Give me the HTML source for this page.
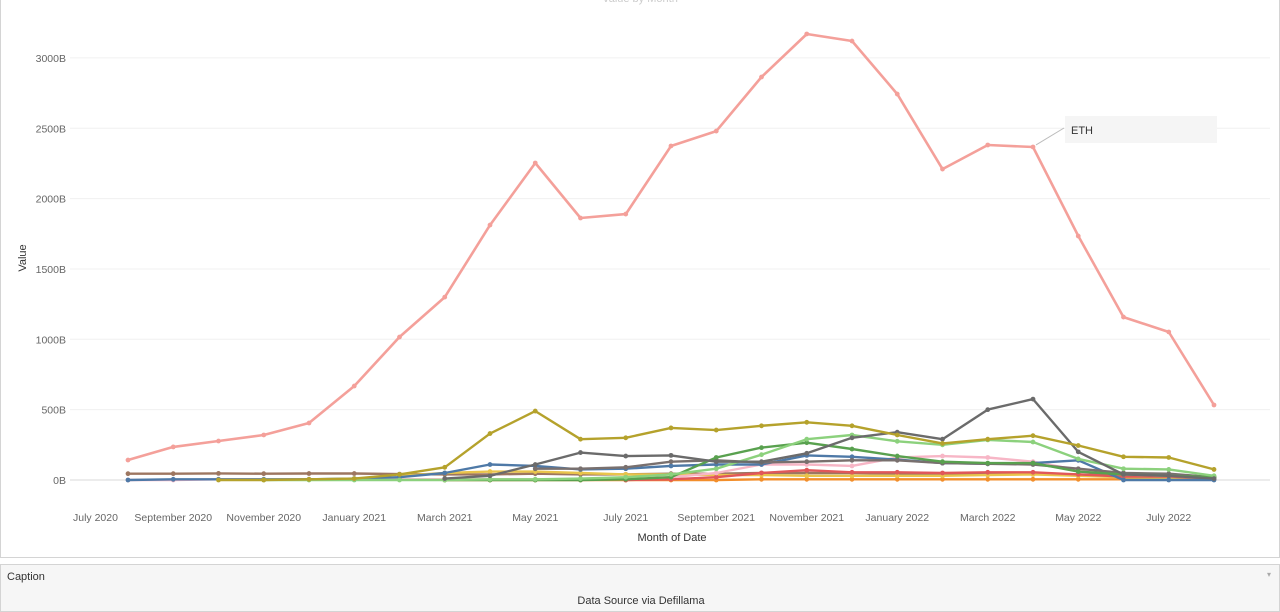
<!DOCTYPE html>
<html><head><meta charset="utf-8">
<style>
body{margin:0;width:1280px;height:609px;overflow:hidden;background:#fff;font-family:"Liberation Sans",sans-serif;}
#frame{position:absolute;left:0;top:-2px;width:1278px;height:558px;border:1px solid #d4d4d4;}
#cap{position:absolute;left:0;top:564px;width:1278px;height:46px;border:1px solid #d4d4d4;background:#f6f6f6;}
</style></head><body>
<div id="frame"></div>
<div id="cap">
 <div style="position:absolute;left:6px;top:6px;font-size:11px;color:#333">Caption</div>
 <div style="position:absolute;right:8px;top:5px;font-size:8px;color:#aaa">▾</div>
 <div style="position:absolute;left:0;width:1280px;top:30px;text-align:center;font-size:11px;color:#333">Data Source via Defillama</div>
</div>
<svg id="chart" width="1280" height="560" style="position:absolute;left:0;top:0"></svg>
<script>
const months=["Aug 2020","Sep 2020","Oct 2020","Nov 2020","Dec 2020","Jan 2021","Feb 2021","Mar 2021","Apr 2021","May 2021","Jun 2021","Jul 2021","Aug 2021","Sep 2021","Oct 2021","Nov 2021","Dec 2021","Jan 2022","Feb 2022","Mar 2022","Apr 2022","May 2022","Jun 2022","Jul 2022","Aug 2022"];
const yTicks=[0,500,1000,1500,2000,2500,3000];
const xTickLabels=["July 2020","September 2020","November 2020","January 2021","March 2021","May 2021","July 2021","September 2021","November 2021","January 2022","March 2022","May 2022","July 2022"];
const xTickIndex=[-1,1,3,5,7,9,11,13,15,17,19,21,23];
const ethVals=[142,235,277,320,405,668,1016,1300,1812,2253,1862,1890,2374,2480,2864,3170,3120,2743,2210,2381,2367,1734,1158,1052,533];
const olive=[null,null,0,0,5,10,40,90,330,490,290,300,370,355,385,410,385,320,260,290,315,245,165,160,75];
const brown=[45,45,47,45,46,46,42,40,40,45,40,40,45,45,50,50,50,45,45,45,45,40,35,30,20];
const darkGray=[null,null,null,null,null,null,null,10,30,110,195,170,175,130,130,190,300,340,290,500,575,200,40,30,10];
const blue=[0,5,5,5,5,10,20,50,110,100,75,80,100,110,110,175,165,145,120,115,120,140,0,0,0];
const darkGreen=[null,null,null,null,null,null,null,0,0,0,0,5,20,160,230,265,220,170,130,120,120,60,40,30,20];
const lightGreen=[null,null,null,0,0,0,0,0,5,5,10,20,40,80,180,290,320,275,250,285,270,150,80,75,30];
const midGray=[null,null,null,null,null,null,null,null,null,80,80,90,130,140,125,130,140,140,120,115,110,80,50,45,20];
const pink=[0,0,5,5,5,5,5,5,5,5,5,10,20,50,110,110,100,160,170,160,130,70,40,30,15];
const red=[null,null,null,null,null,null,null,null,null,null,null,0,5,20,50,70,55,55,50,55,55,40,25,25,10];
const orange=[null,null,null,null,null,null,null,0,0,0,0,0,0,0,5,5,5,5,5,5,5,5,5,5,5];
const yellow=[null,null,null,null,null,null,30,50,60,60,50,40,40,35,35,30,30,30,30,35,40,30,20,15,10];
const series=[
 {n:"brown",v:brown,c:"#9d7660"},{n:"orange",v:orange,c:"#f28e2b"},{n:"yellow",v:yellow,c:"#e9c44b"},
 {n:"red",v:red,c:"#e15759"},{n:"pink",v:pink,c:"#f7b6c6"},{n:"blue",v:blue,c:"#4e79a7"},
 {n:"mid-gray",v:midGray,c:"#79706e"},{n:"dark-green",v:darkGreen,c:"#59a14f"},{n:"light-green",v:lightGreen,c:"#8cd17d"},
 {n:"dark-gray",v:darkGray,c:"#6b6b6b"},{n:"olive",v:olive,c:"#b5a22c"},{n:"eth",v:ethVals,c:"#f4a09a"}];
const NS="http://www.w3.org/2000/svg";
const svg=document.getElementById("chart");
const x=i=>128+i*45.25;
const y=v=>480-v*0.1407;
function el(t,a,txt){const e=document.createElementNS(NS,t);for(const k in a)e.setAttribute(k,a[k]);if(txt!=null)e.textContent=txt;svg.appendChild(e);return e;}
el("text",{x:640,y:2,"text-anchor":"middle","font-size":"11",fill:"#ccc"},"Value by Month");
yTicks.forEach(t=>{
 const g=el("line",{x1:70,x2:1270,y1:y(t),y2:y(t),stroke:t===0?"#d8d8d8":"#f0f0f0","stroke-width":1});
 
 
 const l=el("text",{x:66,y:y(t)+4,"text-anchor":"end","font-size":"10.5",fill:"#666"},t+"B");
 
 
});
xTickLabels.forEach((s,k)=>{
 const i=xTickIndex[k];
 const t=el("text",{x:i<0?73:x(i),y:521,"text-anchor":i<0?"start":"middle","font-size":"10.5",fill:"#666"},s);
 
 
});
const yt=el("text",{x:0,y:0,transform:"translate(26,258) rotate(-90)","text-anchor":"middle","font-size":"11",fill:"#333"},"Value");


const xt=el("text",{x:672,y:541,"text-anchor":"middle","font-size":"11",fill:"#333"},"Month of Date");


series.forEach(s=>{
 let d="",pen=false;
 s.v.forEach((v,i)=>{if(v==null){pen=false;return;}d+=(pen?"L":"M")+x(i).toFixed(1)+","+y(v).toFixed(1);pen=true;});
 const p=el("path",{d:d,fill:"none",stroke:s.c,"stroke-width":s.n==="eth"?2.6:2.4,"stroke-linejoin":"round"});
 
 
 s.v.forEach((v,i)=>{if(v==null)return;
  const c=el("circle",{cx:x(i),cy:y(v),r:2.4,fill:s.c});
  
  
 });
});
const li=20;
const cl=el("line",{x1:x(li)+3,y1:y(ethVals[li])-2,x2:1064,y2:128,stroke:"#bbb","stroke-width":1});


const lb=el("rect",{x:1065,y:116,width:152,height:27,fill:"#f5f5f5"});


const lt=el("text",{x:1071,y:134,"font-size":"11",fill:"#333"},"ETH");


</script>
</body></html>
